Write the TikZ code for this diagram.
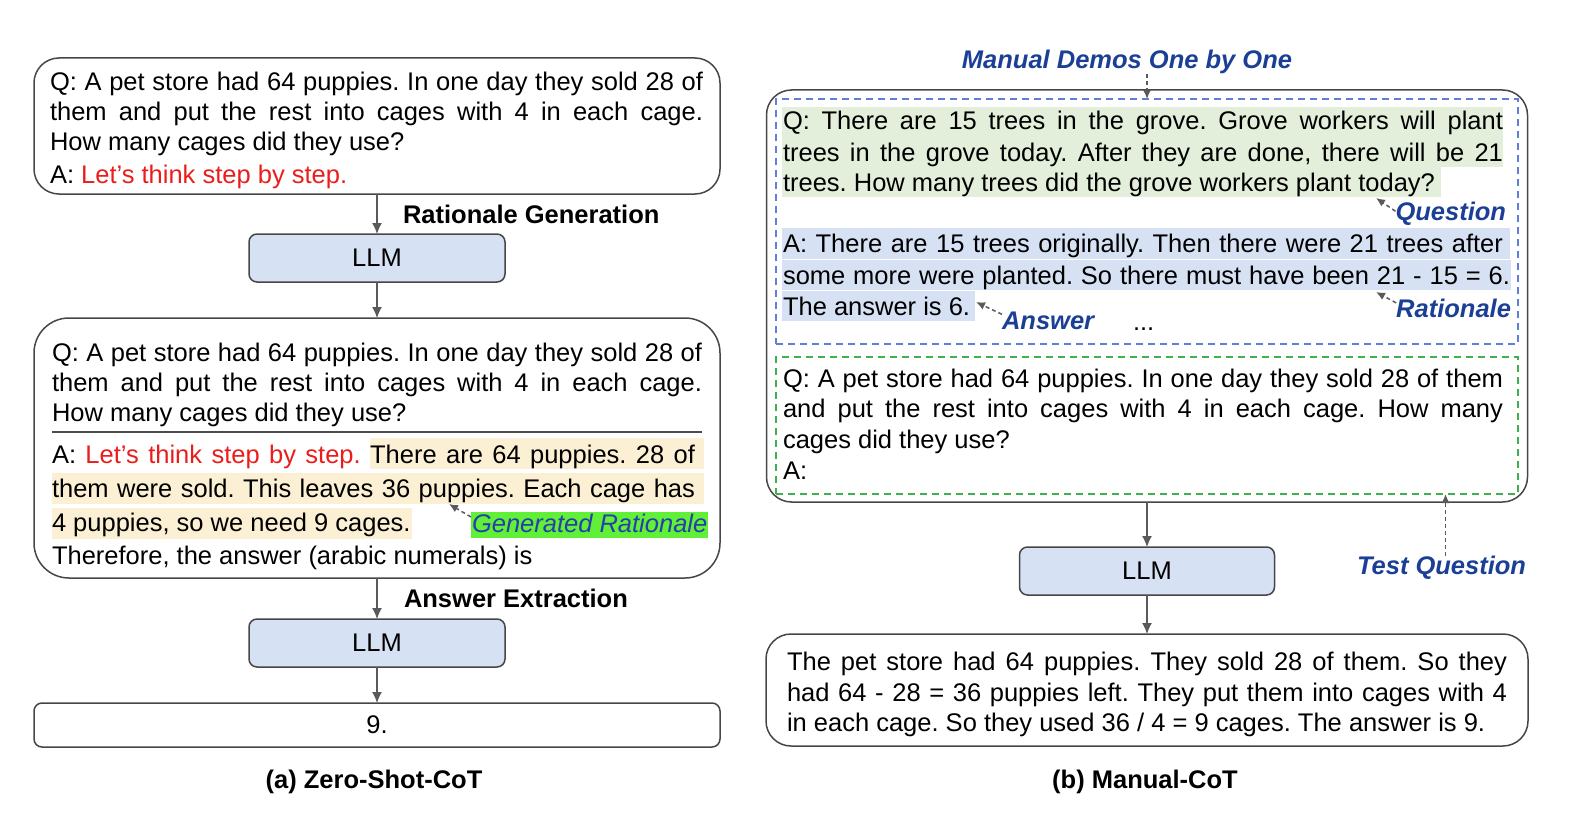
\documentclass[tikz,border=0pt]{standalone}
\usepackage{fontspec}
\setmainfont{Liberation Sans}
\usetikzlibrary{arrows.meta}
\frenchspacing
\definecolor{boxgray}{RGB}{70,70,70}
\definecolor{arrgray}{RGB}{90,90,90}
\definecolor{labblue}{RGB}{28,63,150}
\definecolor{dashblue}{RGB}{95,128,215}
\definecolor{dashgreen}{RGB}{62,176,78}
\definecolor{qgreen}{RGB}{227,239,219}
\definecolor{ablue}{RGB}{214,226,243}
\definecolor{yel}{RGB}{251,240,211}
\definecolor{llmfill}{RGB}{214,226,243}
\definecolor{grbg}{RGB}{95,240,55}
\definecolor{grtext}{RGB}{40,62,170}
\definecolor{lcred}{RGB}{235,28,28}
\begin{document}
\frenchspacing
\begin{tikzpicture}[x=1pt,y=-1pt,
  every node/.style={font=\fontsize{25.5}{30.5}\selectfont, inner sep=0pt, outer sep=0pt},
  tl/.style={anchor=base west},
  bigbox/.style={draw=boxgray, line width=1.5pt, rounded corners=25pt},
  llmbox/.style={draw=boxgray, line width=1.5pt, rounded corners=8pt, fill=llmfill, minimum width=256pt, minimum height=48pt},
  dbox/.style={line width=1.8pt, dash pattern=on 7pt off 5pt},
  arr/.style={draw=arrgray, line width=1.3pt, -{Latex[length=11pt,width=10pt]}},
  lbarr/.style={draw=arrgray, line width=1.5pt, dash pattern=on 4pt off 3pt, -{Latex[length=9pt,width=8pt]}},
  lab/.style={font=\fontsize{25.5}{30.5}\selectfont\bfseries\itshape, text=labblue},
  bold/.style={font=\fontsize{25.5}{30.5}\selectfont\bfseries},
]
\useasboundingbox (0,0) rectangle (1572,824);

% ===================== (a) Zero-Shot-CoT =====================
\node[bigbox, minimum width=686pt, minimum height=136pt] (q1) at (377,126) {};
\node[tl] (q1a) at (50,91) {\makebox[653pt][s]{Q: A pet store had 64 puppies. In one day they sold 28 of}};
\node[tl] (q1b) at (50,121) {\makebox[653pt][s]{them and put the rest into cages with 4 in each cage.}};
\node[tl] (q1c) at (50,151) {How many cages did they use?};
\node[tl] (q1d) at (50,183) {A: \textcolor{lcred}{Let’s think step by step.}};

\node[llmbox] (llm1) at (377,258) {LLM};
\node[bold, anchor=base west] (rg) at (403,223) {Rationale Generation};

\node[bigbox, rounded corners=35pt, minimum width=686pt, minimum height=260pt] (q2) at (377,448) {};
% highlights
\fill[yel] (370,438) rectangle (704,469);
\fill[yel] (52,473) rectangle (704,504);
\fill[yel] (52,508) rectangle (412,539);
\node[tl] (q2a) at (52,361) {\makebox[650pt][s]{Q: A pet store had 64 puppies. In one day they sold 28 of}};
\node[tl] (q2b) at (52,391) {\makebox[650pt][s]{them and put the rest into cages with 4 in each cage.}};
\node[tl] (q2c) at (52,421) {How many cages did they use?};
\draw[line width=1.2pt, black!70] (52,432) -- (702,432);
\node[tl] (q2d) at (52,463) {\makebox[643pt][s]{A: \textcolor{lcred}{Let’s think step by step.} There are 64 puppies. 28 of}};
\node[tl] (q2e) at (52,497) {\makebox[643pt][s]{them were sold. This leaves 36 puppies. Each cage has}};
\node[tl] (q2f) at (52,531) {4 puppies, so we need 9 cages.};
\node[tl] (q2g) at (52,564) {Therefore, the answer (arabic numerals) is};
\node[anchor=base west, fill=grbg, inner xsep=1pt, text height=20pt, text depth=6pt,
      font=\fontsize{25.5}{30.5}\selectfont\itshape, text=grtext] (gr) at (471,532) {Generated Rationale};
\coordinate (grtip) at (449,504);
\draw[lbarr] ([yshift=8pt]gr.west) -- (grtip);

\node[llmbox] (llm2) at (377,643) {LLM};
\node[bold, anchor=base west] (ae) at (404,607) {Answer Extraction};

\node[draw=boxgray, line width=1.5pt, rounded corners=8pt, minimum width=686pt, minimum height=44pt] (ans) at (377,725) {9.};

\draw[arr] (q1.south) -- (llm1.north);
\draw[arr] (llm1.south) -- (q2.north);
\draw[arr] (q2.south) -- (llm2.north);
\draw[arr] (llm2.south) -- (ans.north);

\node[bold, anchor=base] (capa) at (374,788) {(a) Zero-Shot-CoT};

% ===================== (b) Manual-CoT =====================
\node[bigbox, minimum width=761pt, minimum height=412pt] (outer) at (1147,296) {};
% highlights
\fill[qgreen] (782,107) rectangle (1503,167);
\fill[qgreen] (782,167) rectangle (1441,197);
\fill[ablue] (782,228) rectangle (1510,259);
\fill[ablue] (782,260) rectangle (1511,290);
\fill[ablue] (782,291) rectangle (975,321);
\node[dbox, draw=dashblue, minimum width=742pt, minimum height=245pt] (demo) at (1147,221.5) {};
\node[dbox, draw=dashgreen, minimum width=742pt, minimum height=137pt] (test) at (1147,425.5) {};

\node[tl] (d1) at (783,130) {\makebox[720pt][s]{Q: There are 15 trees in the grove. Grove workers will plant}};
\node[tl] (d2) at (783,161) {\makebox[720pt][s]{trees in the grove today. After they are done, there will be 21}};
\node[tl] (d3) at (783,191) {trees. How many trees did the grove workers plant today?};
\node[tl] (d4) at (783,252) {\makebox[720pt][s]{A: There are 15 trees originally. Then there were 21 trees after}};
\node[tl] (d5) at (783,284) {\makebox[727pt][s]{some more were planted. So there must have been 21 - 15 = 6.}};
\node[tl] (d6) at (783,315) {The answer is 6.};

\node[lab, anchor=base] (mdlab) at (1127,69) {Manual Demos One by One};
\coordinate (mdtail) at (1147,74);
\draw[lbarr] (mdtail) -- (mdtail |- demo.north);

\node[lab, anchor=base east] (qlab) at (1506,220) {Question};
\coordinate (qtip) at (1376,198);
\draw[lbarr] ([yshift=2pt]qlab.west) -- (qtip);
\node[lab, anchor=base east] (rlab) at (1511,317) {Rationale};
\coordinate (rtip) at (1376,292);
\draw[lbarr] ([yshift=5pt]rlab.west) -- (rtip);
\node[lab, anchor=base west] (alab) at (1002,329) {Answer};
\coordinate (atip) at (976,302);
\draw[lbarr] ([yshift=6pt]alab.west) -- (atip);
\node[tl] (dots) at (1133,330) {...};

\node[tl] (t1) at (783,387) {\makebox[720pt][s]{Q: A pet store had 64 puppies. In one day they sold 28 of them}};
\node[tl] (t2) at (783,417) {\makebox[720pt][s]{and put the rest into cages with 4 in each cage. How many}};
\node[tl] (t3) at (783,448) {cages did they use?};
\node[tl] (t4) at (783,479) {A:};

\node[llmbox, minimum width=255pt] (llm3) at (1147,571) {LLM};
\node[lab, anchor=base west] (tqlab) at (1357,574) {Test Question};
\draw[lbarr] ([xshift=4pt]tqlab.north) -- ([xshift=4pt]tqlab.north |- test.south);

\node[bigbox, minimum width=762pt, minimum height=112pt] (out) at (1147,690) {};
\node[tl] (o1) at (787,670) {\makebox[720pt][s]{The pet store had 64 puppies. They sold 28 of them. So they}};
\node[tl] (o2) at (787,701) {\makebox[720pt][s]{had 64 - 28 = 36 puppies left. They put them into cages with 4}};
\node[tl] (o3) at (787,731) {in each cage. So they used 36 / 4 = 9 cages. The answer is 9.};

\draw[arr] (outer.south) -- (llm3.north);
\draw[arr] (llm3.south) -- (out.north);

\node[bold, anchor=base] (capb) at (1145,788) {(b) Manual-CoT};
\end{tikzpicture}
\end{document}
